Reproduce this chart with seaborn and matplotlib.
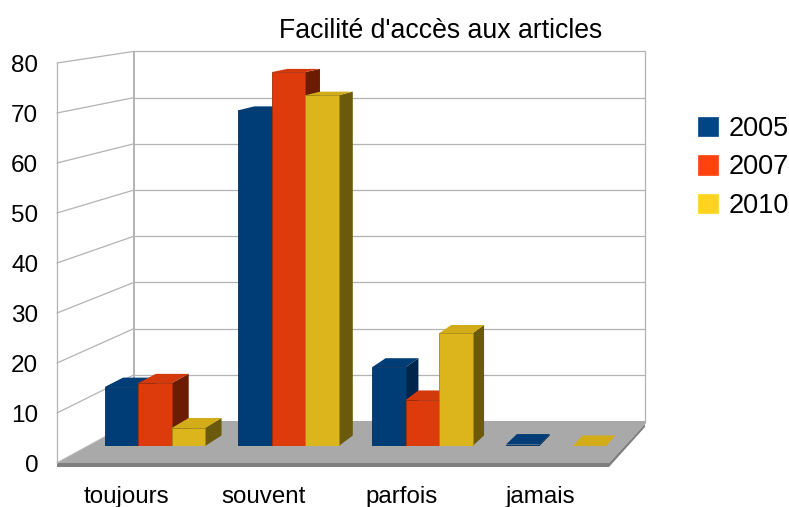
import matplotlib
matplotlib.use('Agg')
import matplotlib.pyplot as plt
from matplotlib.patches import Patch, Polygon
import numpy as np
import pandas as pd
import seaborn as sns

categories = ['toujours', 'souvent', 'parfois', 'jamais']
years = ['2005', '2007', '2010']
values_2005 = [12.2, 69.4, 16.3, 0.3]
values_2007 = [13.0, 77.3, 9.5, np.nan]
values_2010 = [3.7, 72.5, 23.3, 0.0]
y_ticks = [0, 10, 20, 30, 40, 50, 60, 70, 80]

front_colors = ['#003c75', '#de3b0c', '#dcb41c']
top_colors = ['#003c75', '#d4390b', '#d3ad19']
side_colors = ['#00264c', '#6b1c03', '#6b5a0c']
edge_colors = ['#002f5e', '#a52c08', '#a88a14']
legend_colors = ['#004586', '#ff420e', '#ffd320']
grid_color = '#b3b3b3'

W, H = 789, 507

df = pd.DataFrame({'categorie': categories, '2005': values_2005,
                   '2007': values_2007, '2010': values_2010})
df = df.melt(id_vars='categorie', var_name='annee', value_name='valeur')

sns.set_theme(style='white')
plt.rcParams['font.family'] = ['Liberation Sans', 'DejaVu Sans']
plt.rcParams['text.color'] = 'black'
plt.rcParams['xtick.labelcolor'] = 'black'
plt.rcParams['ytick.labelcolor'] = 'black'

fig = plt.figure(figsize=(W / 100, H / 100), dpi=100, facecolor='white')


def box(left, top, right, bottom):
    # pixel box to figure fractions
    return [left / W, 1 - bottom / H, (right - left) / W, (bottom - top) / H]


# walls and floor, in pixels
ax_wall = fig.add_axes([0, 0, 1, 1], zorder=0)
ax_wall.set_xlim(0, W)
ax_wall.set_ylim(H, 0)
ax_wall.axis('off')

ax_wall.add_patch(Polygon([(57, 463), (134, 421), (645, 421), (645, 424), (609, 463)],
                          closed=True, fc='#a9a9a9', ec='none'))
ax_wall.add_patch(Polygon([(57, 463), (609, 463), (645, 424), (645, 427), (609, 467), (57, 467)],
                          closed=True, fc='#7f7f7f', ec='none'))
for v in y_ticks:
    y_front = 463 - 5.0 * v
    y_back = 421 - 4.62 * v
    ax_wall.plot([57, 134], [y_front, y_back], color=grid_color, lw=0.9)
    if v > 0:
        ax_wall.plot([134, 645], [y_back, y_back], color=grid_color, lw=0.9)
ax_wall.plot([57, 57], [63, 463], color=grid_color, lw=0.9)
ax_wall.plot([134, 134], [52, 421], color=grid_color, lw=1.4)
ax_wall.plot([645, 645], [52, 423], color=grid_color, lw=0.9)

# front plane carries the tick labels
ax_front = fig.add_axes(box(57, 63, 609, 463), zorder=1)
ax_front.patch.set_visible(False)
ax_front.set_xlim(-0.5, 3.5)
ax_front.set_ylim(0, 80)
ax_front.set_yticks(y_ticks)
ax_front.set_xticks(range(len(categories)))
ax_front.set_xticklabels(categories)
ax_front.tick_params(axis='y', length=0, pad=13.5, labelsize=17.5)
ax_front.tick_params(axis='x', length=0, pad=16.6, labelsize=17.4)
sns.despine(ax=ax_front, left=True, bottom=True)

# bars
ax_bars = fig.add_axes(box(88, 59, 623, 446), zorder=2)
ax_bars.patch.set_visible(False)
sns.barplot(data=df, x='categorie', y='valeur', hue='annee', order=categories,
            hue_order=years, palette=front_colors, saturation=1, width=0.75,
            errorbar=None, legend=False, ax=ax_bars)
ax_bars.set_xlim(-0.5, 3.5)
ax_bars.set_ylim(0, 80)
ax_bars.axis('off')

px_x = 535 / 4
px_y = 387 / 80


def depth_dx(x):
    # a bar is a quarter of the floor deep, and the floor narrows to the right
    x_px = 88 + (x + 0.5) * px_x
    return 0.25 * (77 - 41 * (x_px - 57) / 552) / px_x


def depth_dy(v):
    return 0.25 * (42 - 0.38 * v) / px_y


for i, container in enumerate(ax_bars.containers):
    for bar in container:
        x0 = bar.get_x()
        x1 = x0 + bar.get_width()
        h = bar.get_height()
        if np.isnan(h):
            continue
        z = 2 + 2 * i
        bar.set_zorder(z + 1)
        bar.set_edgecolor(edge_colors[i])
        bar.set_linewidth(0.6)
        dx0, dx1 = depth_dx(x0), depth_dx(x1)
        base, top = depth_dy(0), depth_dy(h)
        ax_bars.add_patch(Polygon([(x1, 0), (x1 + dx1, base), (x1 + dx1, h + top), (x1, h)],
                                  closed=True, fc=side_colors[i], ec='none', zorder=z, clip_on=False))
        ax_bars.add_patch(Polygon([(x0, h), (x0 + dx0, h + top), (x1 + dx1, h + top), (x1, h)],
                                  closed=True, fc=top_colors[i], ec='none', zorder=z, clip_on=False))

fig.text(441 / W, 1 - 30.5 / H, "Facilité d'accès aux articles", ha='center', va='center',
         fontsize=19.2)

handles = [Patch(facecolor=c, edgecolor=c, linewidth=0.5) for c in legend_colors]
fig.legend(handles, years, loc='center left', bbox_to_anchor=(693 / W, 1 - 167.5 / H),
           frameon=False, fontsize=19.5, handlelength=0.74, handleheight=0.74,
           handletextpad=0.37, labelspacing=0.46, borderaxespad=0, borderpad=0.2)

plt.savefig('out.png', dpi=100)
